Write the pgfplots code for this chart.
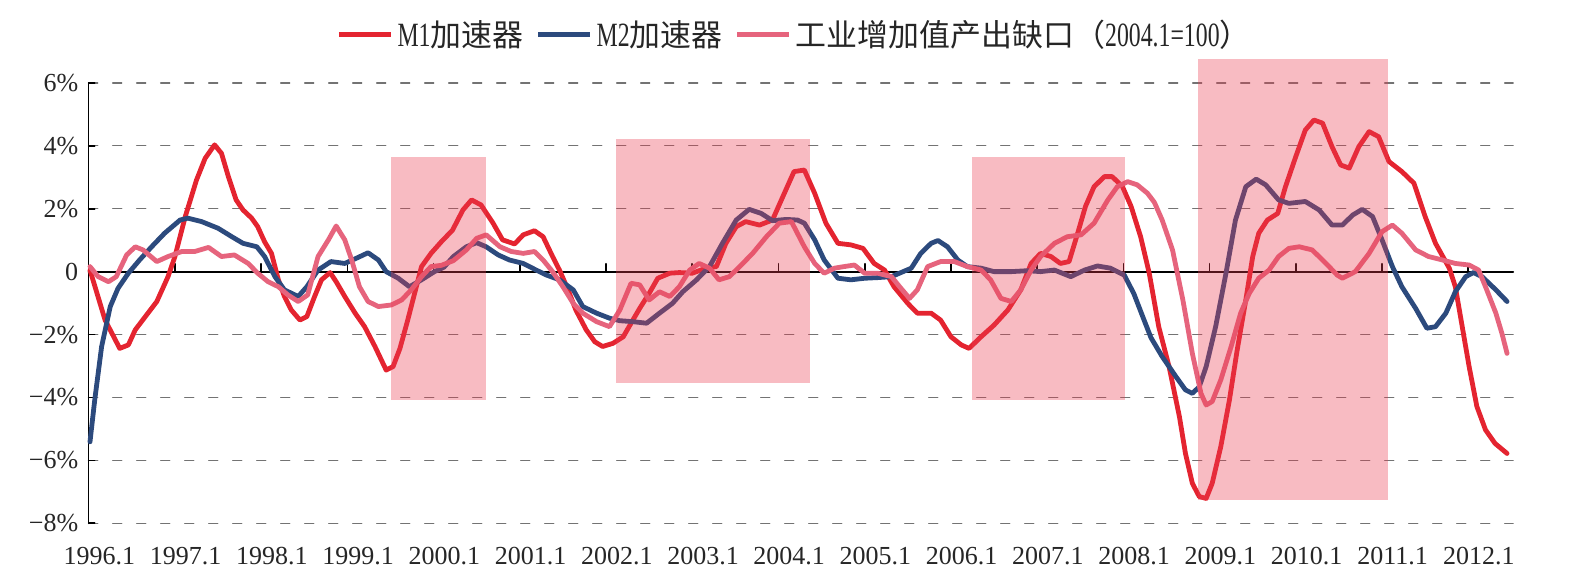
\documentclass[border=0pt]{standalone}
\usepackage{fontspec}
\setmainfont{Liberation Serif}
\newfontfamily\legfont{Liberation Serif}[FakeStretch=0.7]
\newfontfamily\cjk{Noto Sans CJK SC}[Scale=0.91]
\usepackage{pgfplots}
\pgfplotsset{compat=1.18}
\definecolor{mone}{RGB}{228,36,48}
\definecolor{mtwo}{RGB}{44,74,125}
\definecolor{gapc}{RGB}{230,100,125}
\definecolor{rectc}{RGB}{235,60,80}
\begin{document}
\begin{tikzpicture}
\path[use as bounding box] (-44.35pt,-29.35pt) rectangle (748.65pt,261.65pt);
\begin{axis}[
  at={(0pt,0pt)}, anchor=south west,
  scale only axis, width=712.2pt, height=220.2pt,
  xmin=1996, xmax=2012.52, ymin=-8, ymax=6,
  clip=false,
  axis y line*=left, axis x line*=bottom,
  x axis line style={draw=none},
  y axis line style={-, line width=0.8pt, black},
  xtick={1996,1997,...,2012},
  xticklabels={1996.1,1997.1,1998.1,1999.1,2000.1,2001.1,2002.1,2003.1,2004.1,2005.1,2006.1,2007.1,2008.1,2009.1,2010.1,2011.1,2012.1},
  xtick style={draw=none},
  xticklabel style={anchor=base, yshift=-20.4pt, xshift=5.4pt},
  ytick={-8,-6,...,6},
  yticklabels={−8\%,−6\%,−4\%,−2\%,0,2\%,4\%,6\%},
  yticklabel style={xshift=-1.7pt},
  ytick style={black, line width=0.8pt},
  tick align=inside, major tick length=3pt,
  ymajorgrids,
  grid style={dash pattern=on 4.5pt off 7.5pt, line width=0.7pt, color=black!55},
  tick label style={font=\fontsize{13}{15}\selectfont, text=black!85},
  legend columns=3,
  legend style={at={(0.4962,1.109)}, anchor=center, draw=none, fill=none,
    font=\fontsize{17}{18}\legfont, inner sep=0pt, text=black!85,
    /tikz/every even column/.append style={column sep=4pt}},
  legend image code/.code={\draw[#1, line width=2.6pt] (0pt,0pt) -- (26pt,0pt);},
  line join=round, line cap=round,
]
% zero line and its ticks
\addplot[black, line width=1pt, forget plot] coordinates {(1996,0) (2012.52,0)};
\addplot[black, line width=0.8pt, forget plot, unbounded coords=jump] coordinates {
(1997,0) (1997,0.25) (1997,nan) (1998,0) (1998,0.25) (1998,nan)
(1999,0) (1999,0.25) (1999,nan) (2000,0) (2000,0.25) (2000,nan)
(2001,0) (2001,0.25) (2001,nan) (2002,0) (2002,0.25) (2002,nan)
(2003,0) (2003,0.25) (2003,nan) (2004,0) (2004,0.25) (2004,nan)
(2005,0) (2005,0.25) (2005,nan) (2006,0) (2006,0.25) (2006,nan)
(2007,0) (2007,0.25) (2007,nan) (2008,0) (2008,0.25) (2008,nan)
(2009,0) (2009,0.25) (2009,nan) (2010,0) (2010,0.25) (2010,nan)
(2011,0) (2011,0.25) (2011,nan) (2012,0) (2012,0.25)};
% M1
\addplot[mone, line width=2.4pt] coordinates {
(1996.015,0.05) (1996.19,-1.54) (1996.36,-2.44) (1996.46,-2.33) (1996.54,-1.85) (1996.79,-0.95)
(1996.92,-0.16) (1997.00,0.48) (1997.12,1.75) (1997.25,2.91) (1997.35,3.60) (1997.46,4.03)
(1997.54,3.76) (1997.62,3.02) (1997.71,2.28) (1997.79,1.96) (1997.89,1.70) (1997.96,1.43)
(1998.04,0.95) (1998.12,0.58) (1998.20,-0.26) (1998.27,-0.79) (1998.35,-1.22) (1998.45,-1.54)
(1998.53,-1.43) (1998.62,-0.79) (1998.70,-0.26) (1998.80,-0.03) (1998.87,-0.32) (1998.97,-0.79)
(1999.09,-1.32) (1999.20,-1.75) (1999.32,-2.38) (1999.45,-3.13) (1999.53,-3.02) (1999.61,-2.44)
(1999.70,-1.54) (1999.78,-0.69) (1999.86,0.16) (1999.97,0.58) (2000.09,0.95) (2000.22,1.32)
(2000.34,1.96) (2000.44,2.28) (2000.55,2.12) (2000.69,1.54) (2000.80,1.01) (2000.94,0.88)
(2001.04,1.17) (2001.17,1.30) (2001.27,1.11) (2001.38,0.48) (2001.46,0.05) (2001.56,-0.58)
(2001.65,-1.22) (2001.77,-1.85) (2001.87,-2.23) (2001.96,-2.38) (2002.08,-2.28) (2002.20,-2.07)
(2002.29,-1.64) (2002.39,-1.17) (2002.50,-0.69) (2002.60,-0.21) (2002.74,-0.05) (2002.85,-0.03)
(2003.00,-0.05) (2003.16,0.11) (2003.28,0.16) (2003.39,0.90) (2003.51,1.43) (2003.62,1.59)
(2003.78,1.48) (2003.93,1.64) (2004.05,2.38) (2004.18,3.18) (2004.30,3.23) (2004.42,2.49)
(2004.55,1.54) (2004.69,0.90) (2004.84,0.85) (2004.98,0.74) (2005.11,0.26) (2005.23,0.05)
(2005.34,-0.48) (2005.50,-1.01) (2005.61,-1.32) (2005.77,-1.32) (2005.88,-1.54) (2006.00,-2.07)
(2006.12,-2.33) (2006.21,-2.44) (2006.35,-2.07) (2006.50,-1.70) (2006.66,-1.22) (2006.81,-0.58)
(2006.93,0.26) (2007.04,0.58) (2007.16,0.48) (2007.27,0.26) (2007.37,0.32) (2007.47,1.22)
(2007.56,2.07) (2007.66,2.70) (2007.78,3.02) (2007.87,3.02) (2007.99,2.70) (2008.09,2.07)
(2008.20,1.11) (2008.30,-0.05) (2008.41,-1.75) (2008.53,-3.02) (2008.65,-4.61) (2008.72,-5.78)
(2008.80,-6.73) (2008.88,-7.15) (2008.96,-7.21) (2009.03,-6.73) (2009.13,-5.56) (2009.23,-4.08)
(2009.32,-2.49) (2009.42,-0.90) (2009.50,0.48) (2009.57,1.22) (2009.67,1.64) (2009.79,1.85)
(2009.88,2.70) (2010.00,3.66) (2010.11,4.50) (2010.21,4.82) (2010.31,4.72) (2010.42,3.97)
(2010.52,3.39) (2010.62,3.29) (2010.73,3.97) (2010.85,4.45) (2010.96,4.29) (2011.08,3.50)
(2011.23,3.18) (2011.37,2.81) (2011.50,1.75) (2011.62,0.90) (2011.78,0.11) (2011.85,-0.48)
(2011.93,-1.75) (2012.01,-3.02) (2012.10,-4.29) (2012.20,-5.03) (2012.31,-5.46) (2012.45,-5.78)};
\addlegendentry{M1{\cjk 加速器}}
% M2
\addplot[mtwo, line width=2.4pt] coordinates {
(1996.015,-5.41) (1996.07,-4.08) (1996.15,-2.38) (1996.25,-1.11) (1996.34,-0.53) (1996.46,-0.05)
(1996.59,0.37) (1996.73,0.79) (1996.88,1.22) (1997.06,1.64) (1997.15,1.70) (1997.31,1.59)
(1997.50,1.38) (1997.66,1.11) (1997.79,0.90) (1997.95,0.79) (1998.04,0.48) (1998.16,-0.16)
(1998.27,-0.58) (1998.43,-0.79) (1998.53,-0.48) (1998.66,0.05) (1998.81,0.32) (1998.97,0.26)
(1999.10,0.42) (1999.24,0.60) (1999.36,0.37) (1999.45,0.00) (1999.59,-0.21) (1999.72,-0.48)
(1999.86,-0.26) (2000.01,0.00) (2000.12,0.14) (2000.23,0.48) (2000.38,0.79) (2000.50,0.92)
(2000.61,0.79) (2000.75,0.53) (2000.88,0.37) (2001.04,0.26) (2001.19,0.05) (2001.31,-0.11)
(2001.46,-0.26) (2001.62,-0.58) (2001.73,-1.11) (2001.89,-1.32) (2002.04,-1.48) (2002.16,-1.56)
(2002.31,-1.59) (2002.47,-1.64) (2002.62,-1.32) (2002.77,-1.01) (2002.89,-0.64) (2003.05,-0.26)
(2003.20,0.16) (2003.35,0.90) (2003.51,1.64) (2003.66,1.98) (2003.80,1.85) (2003.93,1.62)
(2004.09,1.66) (2004.22,1.64) (2004.30,1.54) (2004.42,1.01) (2004.53,0.37) (2004.69,-0.21)
(2004.84,-0.26) (2005.00,-0.21) (2005.15,-0.19) (2005.31,-0.16) (2005.42,-0.03) (2005.54,0.11)
(2005.65,0.58) (2005.77,0.90) (2005.85,0.99) (2005.96,0.79) (2006.08,0.37) (2006.19,0.16)
(2006.35,0.11) (2006.50,0.00) (2006.70,0.00) (2006.89,0.03) (2007.04,0.00) (2007.20,0.05)
(2007.39,-0.16) (2007.55,0.05) (2007.70,0.18) (2007.85,0.11) (2008.01,-0.11) (2008.12,-0.69)
(2008.24,-1.54) (2008.32,-2.10) (2008.45,-2.70) (2008.61,-3.34) (2008.72,-3.76) (2008.80,-3.87)
(2008.88,-3.66) (2008.96,-3.02) (2009.07,-1.75) (2009.19,-0.05) (2009.30,1.64) (2009.42,2.70)
(2009.54,2.94) (2009.65,2.76) (2009.80,2.28) (2009.92,2.17) (2010.11,2.23) (2010.27,1.96)
(2010.42,1.48) (2010.54,1.48) (2010.66,1.80) (2010.77,1.98) (2010.89,1.75) (2011.00,1.01)
(2011.12,0.16) (2011.23,-0.48) (2011.39,-1.17) (2011.52,-1.80) (2011.62,-1.75) (2011.74,-1.32)
(2011.85,-0.64) (2011.97,-0.16) (2012.06,-0.03) (2012.16,-0.16) (2012.32,-0.58) (2012.45,-0.95)};
\addlegendentry{M2{\cjk 加速器}}
% industrial output gap
\addplot[gapc, line width=2.4pt] coordinates {
(1996.015,0.16) (1996.11,-0.16) (1996.23,-0.32) (1996.32,-0.16) (1996.44,0.53) (1996.54,0.79)
(1996.63,0.69) (1996.79,0.32) (1996.92,0.48) (1997.08,0.64) (1997.23,0.64) (1997.39,0.77)
(1997.54,0.48) (1997.69,0.53) (1997.85,0.26) (1997.96,-0.05) (1998.08,-0.32) (1998.20,-0.48)
(1998.31,-0.74) (1998.43,-0.95) (1998.54,-0.74) (1998.66,0.48) (1998.78,1.01) (1998.87,1.45)
(1998.97,1.01) (1999.05,0.37) (1999.14,-0.48) (1999.24,-0.95) (1999.36,-1.11) (1999.51,-1.06)
(1999.63,-0.90) (1999.74,-0.58) (1999.86,-0.16) (1999.97,0.16) (2000.09,0.20) (2000.23,0.35)
(2000.38,0.69) (2000.50,1.06) (2000.61,1.17) (2000.77,0.79) (2000.90,0.64) (2001.04,0.58)
(2001.17,0.64) (2001.27,0.37) (2001.38,0.00) (2001.50,-0.48) (2001.62,-1.01) (2001.73,-1.32)
(2001.89,-1.59) (2002.04,-1.75) (2002.16,-1.22) (2002.29,-0.37) (2002.39,-0.42) (2002.50,-0.90)
(2002.62,-0.64) (2002.74,-0.79) (2002.85,-0.48) (2002.97,0.05) (2003.08,0.26) (2003.20,0.11)
(2003.31,-0.26) (2003.43,-0.16) (2003.55,0.16) (2003.70,0.58) (2003.86,1.11) (2004.01,1.54)
(2004.15,1.59) (2004.21,1.27) (2004.30,0.79) (2004.42,0.26) (2004.53,-0.05) (2004.65,0.11)
(2004.76,0.16) (2004.88,0.21) (2005.00,-0.05) (2005.15,-0.05) (2005.31,-0.16) (2005.42,-0.53)
(2005.52,-0.85) (2005.61,-0.58) (2005.73,0.16) (2005.88,0.32) (2006.04,0.32) (2006.19,0.16)
(2006.35,0.05) (2006.46,-0.26) (2006.58,-0.85) (2006.70,-0.95) (2006.81,-0.58) (2006.93,0.05)
(2007.04,0.48) (2007.20,0.90) (2007.35,1.11) (2007.51,1.17) (2007.66,1.54) (2007.82,2.28)
(2007.93,2.70) (2008.05,2.86) (2008.16,2.76) (2008.28,2.49) (2008.36,2.20) (2008.45,1.64)
(2008.57,0.69) (2008.69,-0.90) (2008.80,-2.60) (2008.90,-3.87) (2008.96,-4.24) (2009.03,-4.13)
(2009.13,-3.44) (2009.25,-2.38) (2009.36,-1.32) (2009.46,-0.69) (2009.57,-0.21) (2009.69,0.05)
(2009.80,0.48) (2009.92,0.74) (2010.04,0.79) (2010.19,0.69) (2010.35,0.26) (2010.48,-0.11)
(2010.54,-0.21) (2010.69,0.00) (2010.85,0.58) (2011.00,1.27) (2011.12,1.48) (2011.23,1.22)
(2011.39,0.69) (2011.54,0.48) (2011.70,0.37) (2011.85,0.26) (2012.01,0.21) (2012.12,0.05)
(2012.20,-0.48) (2012.32,-1.32) (2012.39,-1.96) (2012.45,-2.60)};
\addlegendentry{{\cjk 工业增加值产出缺口（}2004.1=100{\cjk ）}}
% shaded periods
\addplot[draw=none, fill=rectc, fill opacity=0.35, forget plot] coordinates {(1999.51,-4.08) (2000.61,-4.08) (2000.61,3.64) (1999.51,3.64)} --cycle;
\addplot[draw=none, fill=rectc, fill opacity=0.35, forget plot] coordinates {(2002.11,-3.55) (2004.36,-3.55) (2004.36,4.21) (2002.11,4.21)} --cycle;
\addplot[draw=none, fill=rectc, fill opacity=0.35, forget plot] coordinates {(2006.25,-4.08) (2008.02,-4.08) (2008.02,3.64) (2006.25,3.64)} --cycle;
\addplot[draw=none, fill=rectc, fill opacity=0.35, forget plot] coordinates {(2008.87,-7.26) (2011.07,-7.26) (2011.07,6.76) (2008.87,6.76)} --cycle;
\end{axis}
\end{tikzpicture}
\end{document}
